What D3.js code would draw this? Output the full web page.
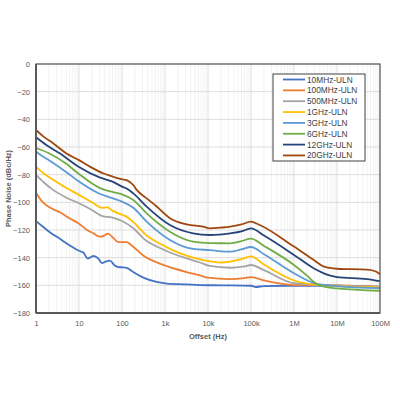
<!DOCTYPE html>
<html><head><meta charset="utf-8">
<script src="https://cdn.jsdelivr.net/npm/d3@7"></script>
<style>body{margin:0;background:#fff}svg{display:block}</style>
</head><body>
<svg id="c" width="400" height="400"></svg>
<script>
const seriesNames = ["10MHz-ULN","100MHz-ULN","500MHz-ULN","1GHz-ULN","3GHz-ULN","6GHz-ULN","12GHz-ULN","20GHz-ULN"];
const seriesColors = ["#4472C4","#ED7D31","#A5A5A5","#FFC000","#5B9BD5","#70AD47","#264478","#9E480E"];
const xTickValues = [1,10,100,1e3,1e4,1e5,1e6,1e7,1e8];
const xTickLabels = ["1","10","100","1k","10k","100k","1M","10M","100M"];
const yTickValues = [0,-20,-40,-60,-80,-100,-120,-140,-160,-180];

// [offset Hz, dBc/Hz]
const s10M = [[1,-113.6],[1.5,-118],[2.1,-121.6],[3.6,-126.4],[6,-131],[10,-135],[12.6,-136.3],[16,-140.6],[19,-139.5],[21.6,-138.8],[28,-140.5],[34,-143.9],[42,-142.8],[52,-142.2],[69,-145.8],[82,-146.8],[100,-147],[128,-147.3],[182,-150.4],[312,-154.4],[640,-157.5],[1100,-158.7],[3200,-159.3],[6500,-159.8],[2e4,-160],[1e5,-160.3],[1.3e5,-161.2],[2e5,-160.5],[1e6,-160.3],[1e7,-160.3],[5e7,-160.8],[1e8,-161.5]];
const s100M = [[1,-93],[1.4,-99.5],[2.1,-103.8],[3.6,-107.2],[6,-111.5],[10,-115.4],[16,-120.3],[21.6,-122.4],[30,-124.8],[38,-124.2],[47,-122.6],[63,-125.8],[82,-128.8],[128,-128.8],[168,-131.2],[312,-138.4],[770,-144.4],[1100,-146.1],[3200,-150.4],[6500,-152.8],[1e4,-154.5],[3e4,-155.5],[7e4,-154.8],[1e5,-154],[2e5,-156.5],[1e6,-159.8],[1e7,-160],[1e8,-161]];
const s500M = [[1,-80.2],[1.5,-85.5],[2.5,-91],[5,-96.5],[10,-100.7],[20,-105.5],[35,-110],[60,-111],[100,-113.5],[180,-118.5],[375,-128],[770,-133],[1500,-137],[3200,-140.5],[6500,-143.5],[1.1e4,-146],[3.3e4,-147.3],[7e4,-146.3],[1e5,-145.3],[2e5,-149],[1e6,-158.5],[1e7,-160.2],[1e8,-161]];
const s1G = [[1,-74.2],[1.5,-79],[2.5,-83.6],[5,-89.5],[10,-94.6],[20,-100],[35,-104],[45,-103.5],[60,-106],[100,-109],[130,-110.5],[180,-114],[375,-124],[770,-130],[1500,-134.5],[3200,-138.5],[6500,-141.2],[1.1e4,-142.5],[2e4,-143.5],[3.3e4,-142.9],[6e4,-141],[1e5,-139],[2e5,-145],[1e6,-156.5],[3e6,-159.5],[1e7,-160.5],[1e8,-161.5]];
const s3G = [[1,-63.3],[1.3,-66],[2,-69.5],[5,-78],[10,-85],[30,-93.8],[60,-97],[100,-99.5],[183,-103.9],[375,-114],[1300,-127.2],[4500,-133.7],[1.1e4,-134.5],[3.3e4,-135.7],[6e4,-134],[1e5,-132.3],[2e5,-137.5],[1e6,-151.3],[3e6,-158.5],[1e7,-160.5],[1e8,-162]];
const s6G = [[1,-60.7],[2,-64.5],[5,-72],[10,-79.5],[30,-89.5],[60,-92.5],[100,-94.2],[183,-98.3],[375,-108],[1300,-121.2],[4500,-128.4],[1.1e4,-129.5],[3.3e4,-129.6],[6e4,-128],[1e5,-126.2],[2e5,-131.5],[1e6,-145.3],[2e6,-153],[3e6,-158],[5e6,-161],[1e7,-162.2],[1e8,-163.9]];
const s12G = [[1,-53],[1.74,-58.6],[3.55,-64.6],[10,-74.5],[30,-82],[60,-85],[100,-88.6],[128,-90],[183,-93.5],[375,-103.1],[1300,-116.4],[4500,-122.4],[1.1e4,-123.6],[3.3e4,-122.4],[6e4,-121],[1e5,-118.8],[2e5,-124],[1e6,-138],[3e6,-148],[7e6,-153],[1e7,-154],[5e7,-155.5],[1e8,-157]];
const s20G = [[1,-47.7],[1.5,-52.5],[2.5,-57.3],[5,-64.5],[10,-69.5],[18,-74.2],[36,-79],[62,-81.5],[90,-83],[128,-84],[183,-87.5],[220,-91],[375,-97.1],[640,-103],[1300,-111.5],[3200,-115.9],[7700,-117.6],[1.1e4,-118.8],[1.9e4,-118.3],[3.3e4,-117.6],[6e4,-116],[1e5,-114],[1.5e5,-116],[1e6,-132],[3e6,-142],[5e6,-146.5],[1e7,-148],[5e7,-148.7],[8e7,-150],[1e8,-152]];
const seriesData = [s10M,s100M,s500M,s1G,s3G,s6G,s12G,s20G];

const svg = d3.select("#c");
const L=36,R=380,T=64,B=313;
const x = d3.scaleLog().domain([1,1e8]).range([L,R]);
const y = d3.scaleLinear().domain([-180,0]).range([B,T]);

// minor vertical grid
const minor=[];
for(let d=0; d<8; d++) for(let k=2;k<10;k++) minor.push(k*Math.pow(10,d));
svg.append("g").selectAll("line").data(minor).join("line")
  .attr("x1",d=>x(d)).attr("x2",d=>x(d)).attr("y1",T).attr("y2",B)
  .attr("stroke","#efefef").attr("stroke-width",0.8);
svg.append("g").selectAll("line").data(xTickValues).join("line")
  .attr("x1",d=>x(d)).attr("x2",d=>x(d)).attr("y1",T).attr("y2",B)
  .attr("stroke","#d9d9d9").attr("stroke-width",0.9);
svg.append("g").selectAll("line").data(yTickValues).join("line")
  .attr("x1",L).attr("x2",R).attr("y1",d=>y(d)).attr("y2",d=>y(d))
  .attr("stroke","#d9d9d9").attr("stroke-width",0.9);

// axes labels via d3 axes
const xAxis = d3.axisBottom(x).tickValues(xTickValues).tickFormat((d,i)=>xTickLabels[i]).tickSize(0).tickPadding(8);
const gx = svg.append("g").attr("transform",`translate(0,${B})`).call(xAxis);
gx.select(".domain").remove();
gx.selectAll("text").attr("font-family","Liberation Sans, Arial, sans-serif").attr("font-size",7.5).attr("fill","#595959");
const yAxis = d3.axisLeft(y).tickValues(yTickValues).tickSize(0).tickPadding(6);
const gy = svg.append("g").attr("transform",`translate(${L},0)`).call(yAxis);
gy.select(".domain").remove();
gy.selectAll("text").attr("font-family","Liberation Sans, Arial, sans-serif").attr("font-size",7.5).attr("fill","#595959");

// lines
const line = d3.line().x(d=>x(d[0])).y(d=>y(d[1])).curve(d3.curveMonotoneX);
svg.append("g").selectAll("path").data(seriesData).join("path")
  .attr("d",line).attr("fill","none")
  .attr("stroke",(d,i)=>seriesColors[i]).attr("stroke-width",1.8)
  .attr("stroke-linejoin","round");

// frame
svg.append("rect").attr("x",L).attr("y",T).attr("width",R-L).attr("height",B-T)
  .attr("fill","none").attr("stroke","#595959").attr("stroke-width",1.2);
svg.append("line").attr("x1",L).attr("x2",L).attr("y1",T).attr("y2",B).attr("stroke","#595959").attr("stroke-width",2);
svg.append("line").attr("x1",L).attr("x2",R).attr("y1",B).attr("y2",B).attr("stroke","#595959").attr("stroke-width",2);

// titles
svg.append("text").attr("x",(L+R)/2).attr("y",339).attr("text-anchor","middle")
  .attr("font-family","Liberation Sans, Arial, sans-serif").attr("font-size",7.5).attr("font-weight","bold").attr("fill","#595959")
  .text("Offset (Hz)");
svg.append("text").attr("transform",`translate(11,${(T+B)/2}) rotate(-90)`).attr("text-anchor","middle")
  .attr("font-family","Liberation Sans, Arial, sans-serif").attr("font-size",7.5).attr("font-weight","bold").attr("fill","#595959")
  .text("Phase Noise (dBc/Hz)");

// legend
const lg = svg.append("g");
lg.append("rect").attr("x",273).attr("y",74).attr("width",92).attr("height",87)
  .attr("fill","#fff").attr("stroke","#404040").attr("stroke-width",1);
const items = lg.selectAll("g").data(seriesNames).join("g")
  .attr("transform",(d,i)=>`translate(0,${79.5+i*10.85})`);
items.append("line").attr("x1",283).attr("x2",305).attr("y1",0).attr("y2",0)
  .attr("stroke",(d,i)=>seriesColors[i]).attr("stroke-width",1.8);
items.append("text").attr("x",307).attr("y",3).text(d=>d)
  .attr("font-family","Liberation Sans, Arial, sans-serif").attr("font-size",8.3).attr("fill","#404040");
</script>
</body></html>
